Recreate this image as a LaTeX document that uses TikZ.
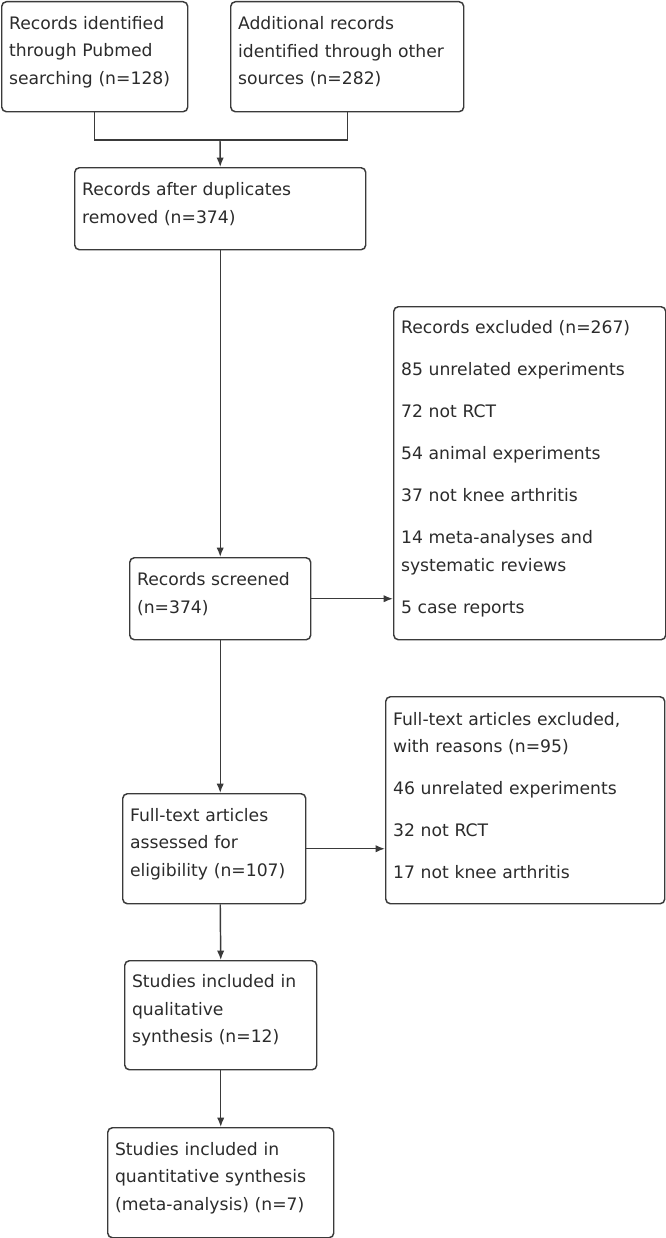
\documentclass[tikz,border=0pt]{standalone}
\usepackage{fontspec}
\setmainfont{DejaVu Sans}
\usetikzlibrary{arrows.meta}
\definecolor{linegray}{HTML}{3A3A3A}
\definecolor{textgray}{HTML}{2B2B2B}
\tikzset{
  box/.style={draw=linegray, line width=1.1pt, rounded corners=3.5pt, anchor=north west,
    align=left, inner xsep=5.5pt, inner ysep=0pt, text=textgray,
    font=\fontsize{12.9pt}{20.6pt}\selectfont, execute at end node={\par\kern7pt}},
  link/.style={draw=linegray, line width=1.1pt},
  arr/.style={link, -{Latex[length=7pt,width=5.5pt]}}
}

\begin{document}
\begin{tikzpicture}[x=0.75pt, y=-0.75pt]
  \useasboundingbox (0,0) rectangle (666,1238);
  \node[box, text width=128.5pt, minimum height=82.5pt] (pubmed) at (1,1)
    {Records identified\\through Pubmed\\searching (n=128)};
  \node[box, text width=163.75pt, minimum height=82.5pt] (other) at (230,1)
    {Additional records\\identified through other\\sources (n=282)};
  \node[box, text width=207.25pt, minimum height=61.5pt] (dupl) at (74,167)
    {Records after duplicates\\removed (n=374)};
  \node[box, text width=124.75pt, minimum height=61.5pt] (screen) at (129,557)
    {Records screened\\(n=374)};
  \node[box, text width=193pt, minimum height=249.75pt] (excl) at (393,306)
    {Records excluded (n=267)\\[11pt]85 unrelated experiments\\[11pt]72 not RCT\\[11pt]54 animal experiments\\[11pt]37 not knee arthritis\\[11pt]14 meta-analyses and\\systematic reviews\\[11pt]5 case reports};
  \node[box, text width=126.25pt, minimum height=82.5pt] (full) at (122,793)
    {Full-text articles\\assessed for\\eligibility (n=107)};
  \node[box, text width=198.25pt, minimum height=155.25pt] (fullexcl) at (385,696)
    {Full-text articles excluded,\\with reasons (n=95)\\[11pt]46 unrelated experiments\\[11pt]32 not RCT\\[11pt]17 not knee arthritis};
  \node[box, text width=133pt, minimum height=81.75pt] (quali) at (124,960)
    {Studies included in\\qualitative\\synthesis (n=12)};
  \node[box, text width=158.5pt, minimum height=82.5pt] (quanti) at (107,1127)
    {Studies included in\\quantitative synthesis\\(meta-analysis) (n=7)};

  \coordinate (join) at (220,140);
  \draw[link] (pubmed.south) |- (join) -| (other.south);
  \draw[arr] (join) -- (dupl.north);
  \draw[arr] (dupl.south) -- (screen.north);
  \draw[arr] (screen.east) -- (screen.east -| excl.west);
  \draw[arr] (screen.south) -- (screen.south |- full.north);
  \draw[arr] (full.east) -- (full.east -| fullexcl.west);
  \draw[arr] (screen.south |- full.south) -- (quali.north);
  \draw[arr] (quali.south) -- (quanti.north);
\end{tikzpicture}
\end{document}
